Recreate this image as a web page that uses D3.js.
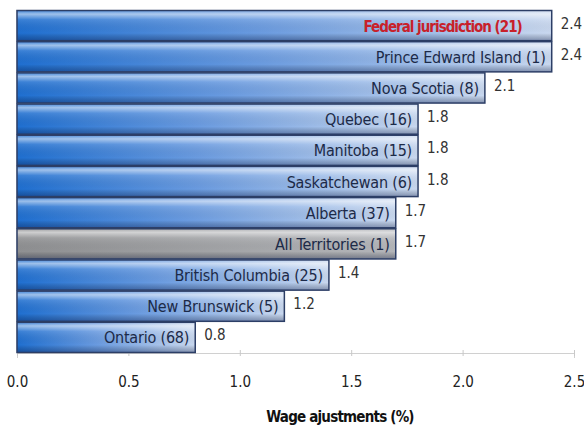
<!DOCTYPE html>
<html>
<head>
<meta charset="utf-8">
<script src="https://cdn.jsdelivr.net/npm/d3@7"></script>
<style>
  html, body { margin: 0; padding: 0; background: #fff; }
  svg { display: block; }
  text { font-family: "Liberation Sans Narrow", "DejaVu Sans Condensed", "Liberation Sans", sans-serif; }
</style>
</head>
<body>
<svg id="chart" width="584" height="431"></svg>
<script>
// Jurisdictions (number of agreements) and average wage adjustment (%)
const categories = [
  "Federal jurisdiction (21)",
  "Prince Edward Island (1)",
  "Nova Scotia (8)",
  "Quebec (16)",
  "Manitoba (15)",
  "Saskatchewan (6)",
  "Alberta (37)",
  "All Territories (1)",
  "British Columbia (25)",
  "New Brunswick (5)",
  "Ontario (68)"
];
const values = [2.4, 2.4, 2.1, 1.8, 1.8, 1.8, 1.7, 1.7, 1.4, 1.2, 0.8];
const tickValues = [0, 0.5, 1.0, 1.5, 2.0, 2.5];
const axisTitle = "Wage ajustments (%)";
const highlight = "Federal jurisdiction (21)";
const grayBar = "All Territories (1)";

const data = categories.map((c, i) => ({ name: c, value: values[i] }));

const svg = d3.select("#chart");
const margin = { left: 17, right: 10, top: 10, bottom: 78 };
const W = 584, H = 431;

const x = d3.scaleLinear().domain([0, 2.5]).range([margin.left, 574]);
const y = d3.scaleBand().domain(categories).range([margin.top, H - margin.bottom]).paddingInner(0);

const defs = svg.append("defs");
// Horizontal colour ramps
const blue = defs.append("linearGradient").attr("id", "gBlue").attr("x1", 0).attr("x2", 1).attr("y1", 0).attr("y2", 0);
blue.append("stop").attr("offset", "0%").attr("stop-color", "#1f6fd0");
blue.append("stop").attr("offset", "45%").attr("stop-color", "#6a9be0");
blue.append("stop").attr("offset", "100%").attr("stop-color", "#c9d8ef");
const gray = defs.append("linearGradient").attr("id", "gGray").attr("x1", 0).attr("x2", 1).attr("y1", 0).attr("y2", 0);
gray.append("stop").attr("offset", "0%").attr("stop-color", "#8f9092");
gray.append("stop").attr("offset", "100%").attr("stop-color", "#b4b6ba");
// Vertical gloss: bright top edge, shaded bottom
const gloss = defs.append("linearGradient").attr("id", "gGloss").attr("x1", 0).attr("x2", 0).attr("y1", 0).attr("y2", 1);
gloss.append("stop").attr("offset", "0%").attr("stop-color", "#ffffff").attr("stop-opacity", 0.15);
gloss.append("stop").attr("offset", "12%").attr("stop-color", "#ffffff").attr("stop-opacity", 0.55);
gloss.append("stop").attr("offset", "30%").attr("stop-color", "#ffffff").attr("stop-opacity", 0.12);
gloss.append("stop").attr("offset", "75%").attr("stop-color", "#000000").attr("stop-opacity", 0.0);
gloss.append("stop").attr("offset", "100%").attr("stop-color", "#001040").attr("stop-opacity", 0.35);

// Axis lines
svg.append("line")
  .attr("x1", x(0)).attr("x2", x(0))
  .attr("y1", margin.top).attr("y2", H - margin.bottom)
  .attr("stroke", "#c8c8c8").attr("stroke-width", 1);

const xAxis = d3.axisBottom(x).tickValues(tickValues).tickFormat(d3.format(".1f")).tickSize(5).tickPadding(18);
const gx = svg.append("g").attr("transform", `translate(0,${H - margin.bottom})`).call(xAxis);
gx.select(".domain").attr("stroke", "#d0d0d0");
gx.selectAll(".tick line").attr("stroke", "#c8c8c8").attr("y1", -3).attr("y2", 3);
gx.selectAll(".tick text").attr("fill", "#222").style("font-size", "15px")
  .style("font-family", "'Liberation Sans Narrow', 'DejaVu Sans Condensed', sans-serif");

// Bars
const bars = svg.append("g").selectAll("g.bar").data(data).join("g").attr("class", "bar");
bars.append("rect")
  .attr("x", x(0))
  .attr("y", d => y(d.name) + 0.5)
  .attr("width", d => x(d.value) - x(0))
  .attr("height", y.bandwidth() - 1)
  .attr("fill", d => d.name === grayBar ? "url(#gGray)" : "url(#gBlue)");
bars.append("rect")
  .attr("x", x(0))
  .attr("y", d => y(d.name) + 0.5)
  .attr("width", d => x(d.value) - x(0))
  .attr("height", y.bandwidth() - 1)
  .attr("fill", "url(#gGloss)")
  .attr("stroke", "#2c3e66")
  .attr("stroke-width", 1.5);

// Category labels inside bars (the highlighted one sits further in from the bar end)
bars.append("text")
  .attr("x", d => x(d.value) - (d.name === highlight ? 30 : 6))
  .attr("y", d => y(d.name) + y.bandwidth() / 2 + 6)
  .attr("text-anchor", "end")
  .attr("fill", d => d.name === highlight ? "#c8202a" : "#1c2a48")
  .style("font-size", d => d.name === highlight ? "15px" : "16px")
  .style("letter-spacing", d => d.name === highlight ? "-1px" : "-0.2px")
  .style("font-weight", d => d.name === highlight ? "bold" : "normal")
  .text(d => d.name);

// Value labels
bars.append("text")
  .attr("x", d => x(d.value) + 9)
  .attr("y", d => y(d.name) + y.bandwidth() / 2 + 3)
  .attr("fill", "#333")
  .style("font-size", "15px")
  .text(d => d3.format(".1f")(d.value));

// Axis title
svg.append("text")
  .attr("x", 340)
  .attr("y", 422)
  .attr("text-anchor", "middle")
  .attr("fill", "#111")
  .style("font-size", "15px")
  .style("letter-spacing", "-0.8px")
  .style("font-weight", "bold")
  .text(axisTitle);
</script>
</body>
</html>
